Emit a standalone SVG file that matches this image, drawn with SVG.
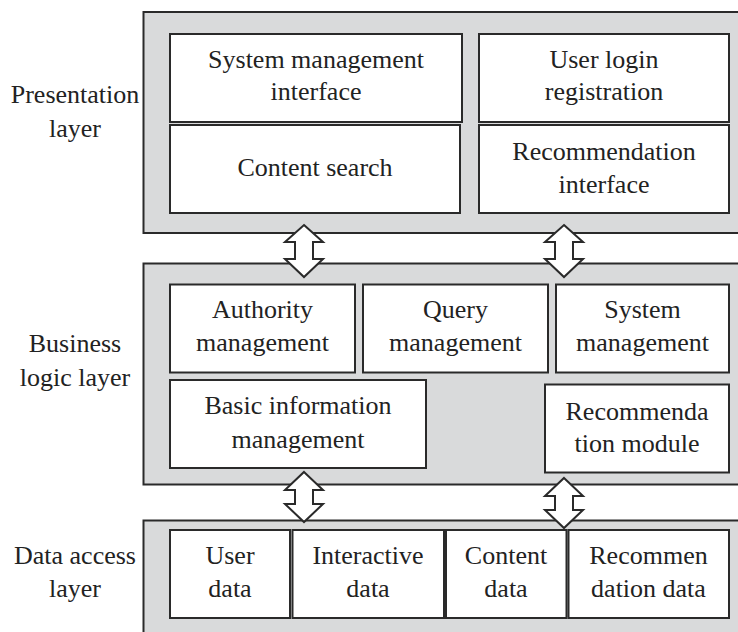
<svg xmlns="http://www.w3.org/2000/svg" width="738" height="632" viewBox="0 0 738 632">
<style>
.layer{fill:#d9dadb;stroke:#2a2a2a;stroke-width:2}
.box{fill:#ffffff;stroke:#2a2a2a;stroke-width:2}
.arrow{fill:#ffffff;stroke:#2a2a2a;stroke-width:2;stroke-linejoin:miter}
text{font-family:"Liberation Serif","Times New Roman",serif;font-size:26px;fill:#222;text-anchor:middle}
</style>
<rect width="738" height="632" fill="#ffffff"/>
<g id="presentation-layer">
<rect class="layer" x="143.5" y="12" width="600" height="221"/>
<text x="75" y="103">Presentation</text>
<text x="75" y="137">layer</text>
</g>
<g id="business-layer">
<rect class="layer" x="143.5" y="263.5" width="600" height="221"/>
<text x="75" y="352">Business</text>
<text x="75" y="386">logic layer</text>
</g>
<g id="data-layer">
<rect class="layer" x="143.5" y="520.5" width="600" height="130"/>
<text x="75" y="564">Data access</text>
<text x="75" y="597">layer</text>
</g>
<g id="system-management-interface">
<rect class="box" x="170" y="34" width="292" height="88"/>
<text x="316" y="68">System management</text>
<text x="316" y="100">interface</text>
</g>
<g id="content-search">
<rect class="box" x="170" y="125" width="290" height="88"/>
<text x="315" y="176">Content search</text>
</g>
<g id="user-login-registration">
<rect class="box" x="479" y="34" width="250" height="88"/>
<text x="604" y="68">User login</text>
<text x="604" y="100">registration</text>
</g>
<g id="recommendation-interface">
<rect class="box" x="479" y="125" width="250" height="88"/>
<text x="604" y="160">Recommendation</text>
<text x="604" y="193">interface</text>
</g>
<g id="authority-management">
<rect class="box" x="170" y="284.5" width="185" height="88"/>
<text x="262.5" y="318">Authority</text>
<text x="262.5" y="351">management</text>
</g>
<g id="query-management">
<rect class="box" x="363" y="284.5" width="185" height="88"/>
<text x="455.5" y="318">Query</text>
<text x="455.5" y="351">management</text>
</g>
<g id="system-management">
<rect class="box" x="556" y="284.5" width="173" height="88"/>
<text x="642.5" y="318">System</text>
<text x="642.5" y="351">management</text>
</g>
<g id="basic-information-management">
<rect class="box" x="170" y="380" width="256" height="88"/>
<text x="298" y="414">Basic information</text>
<text x="298" y="448">management</text>
</g>
<g id="recommendation-module">
<rect class="box" x="545" y="384.5" width="184" height="88"/>
<text x="637" y="420">Recommenda</text>
<text x="637" y="452">tion module</text>
</g>
<g id="user-data">
<rect class="box" x="170" y="530" width="120" height="88"/>
<text x="230" y="564">User</text>
<text x="230" y="597">data</text>
</g>
<g id="interactive-data">
<rect class="box" x="292.5" y="530" width="151.5" height="88"/>
<text x="368" y="564">Interactive</text>
<text x="368" y="597">data</text>
</g>
<g id="content-data">
<rect class="box" x="446" y="530" width="120.5" height="88"/>
<text x="506" y="564">Content</text>
<text x="506" y="597">data</text>
</g>
<g id="recommendation-data">
<rect class="box" x="568.5" y="530" width="160.5" height="88"/>
<text x="648.5" y="564">Recommen</text>
<text x="648.5" y="597">dation data</text>
</g>
<g id="connectors">
<polygon class="arrow" points="304,225 323,242 313,242 313,259 323,259 304,277 285,259 295,259 295,242 285,242"/>
<polygon class="arrow" points="564,225 583,242 573,242 573,259 583,259 564,277 545,259 555,259 555,242 545,242"/>
<polygon class="arrow" points="304,472 323,490 313,490 313,504 323,504 304,522 285,504 295,504 295,490 285,490"/>
<polygon class="arrow" points="564,478 583,496 573,496 573,510 583,510 564,528 545,510 555,510 555,496 545,496"/>
</g>
</svg>
